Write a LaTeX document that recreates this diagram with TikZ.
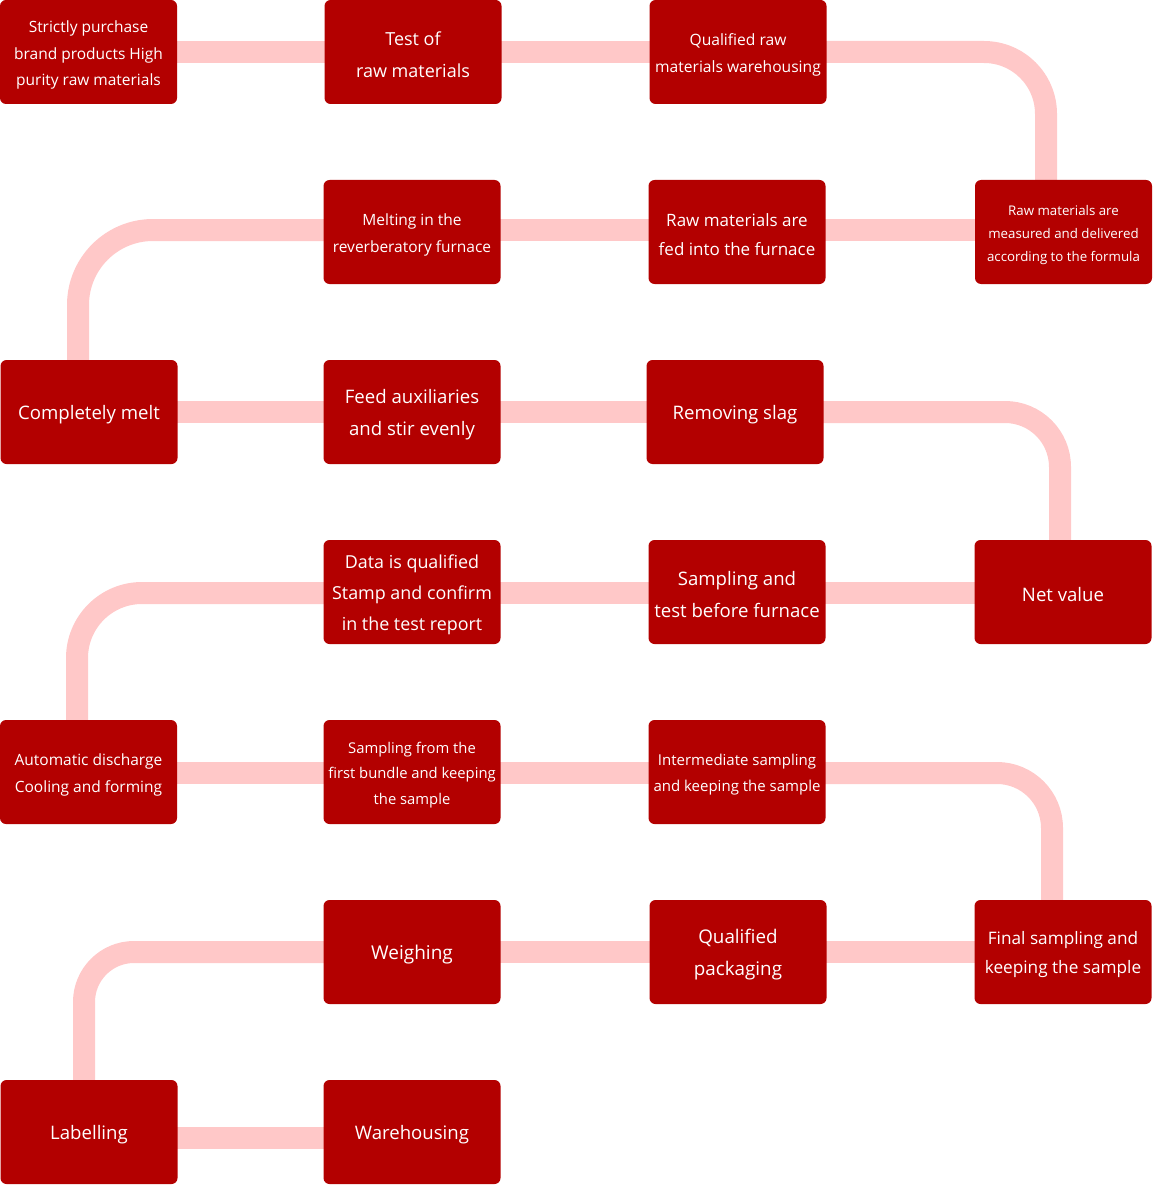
\documentclass[tikz,border=0pt]{standalone}
\usepackage{fontspec}
\setmainfont{Open Sans}
\definecolor{boxred}{HTML}{B30000}
\definecolor{pipepink}{HTML}{FFC8C8}
\pgfdeclarelayer{bg}
\pgfsetlayers{bg,main}
\tikzset{
  stepbox/.style={rectangle, fill=boxred, rounded corners=6pt,
    minimum width=177pt, minimum height=104pt, inner sep=0pt},
  tx/.style={text=white, align=center, inner sep=0pt, yshift=-3pt,
    font={\fontsize{18.6}{32}\selectfont}},
  pipe/.style={draw=pipepink, line width=22pt}
}
\begin{document}
\begin{tikzpicture}[x=1pt,y=-1pt]
\useasboundingbox (0,0) rectangle (1152,1185);
% row 1
\node[stepbox, label={[tx, font={\fontsize{15.5}{26.5}\selectfont}]center:{Strictly purchase\\brand products High\\purity raw materials}}] (n1) at (88.5,52) {};
\node[stepbox, label={[tx, font={\fontsize{18}{32}\selectfont}]center:{Test of\\raw materials}}] (n2) at (413,52) {};
\node[stepbox, label={[tx, font={\fontsize{15.6}{27}\selectfont}]center:{Qualified raw\\materials warehousing}}] (n3) at (738,52) {};
% row 2
\node[stepbox, label={[tx, font={\fontsize{13.3}{23}\selectfont}]center:{Raw materials are\\measured and delivered\\according to the formula}}] (n4) at (1063.5,232) {};
\node[stepbox, label={[tx, font={\fontsize{17}{29}\selectfont}]center:{Raw materials are\\fed into the furnace}}] (n5) at (737,232) {};
\node[stepbox, label={[tx, font={\fontsize{15.5}{27}\selectfont}]center:{Melting in the\\reverberatory furnace}}] (n6) at (412,232) {};
% row 3
\node[stepbox, label={[tx]center:{Completely melt}}] (n7) at (89,412) {};
\node[stepbox, label={[tx]center:{Feed auxiliaries\\and stir evenly}}] (n8) at (412,412) {};
\node[stepbox, label={[tx]center:{Removing slag}}] (n9) at (735,412) {};
% row 4
\node[stepbox, label={[tx]center:{Net value}}] (n10) at (1063,592) {};
\node[stepbox, label={[tx]center:{Sampling and\\test before furnace}}] (n11) at (737,592) {};
\node[stepbox, label={[tx, font={\fontsize{17.9}{31}\selectfont}]center:{Data is qualified\\Stamp and confirm\\in the test report}}] (n12) at (412,592) {};
% row 5
\node[stepbox, label={[tx, font={\fontsize{15.5}{27}\selectfont}]center:{Automatic discharge\\Cooling and forming}}] (n13) at (88.5,772) {};
\node[stepbox, label={[tx, font={\fontsize{14.8}{25.5}\selectfont}]center:{Sampling from the\\first bundle and keeping\\the sample}}] (n14) at (412,772) {};
\node[stepbox, label={[tx, font={\fontsize{15}{26}\selectfont}]center:{Intermediate sampling\\and keeping the sample}}] (n15) at (737,772) {};
% row 6
\node[stepbox, label={[tx, font={\fontsize{17.2}{29}\selectfont}]center:{Final sampling and\\keeping the sample}}] (n16) at (1063,952) {};
\node[stepbox, label={[tx, font={\fontsize{18.8}{32}\selectfont}]center:{Qualified\\packaging}}] (n17) at (738,952) {};
\node[stepbox, label={[tx, font={\fontsize{19}{32}\selectfont}]center:{Weighing}}] (n18) at (412,952) {};
% row 7
\node[stepbox, label={[tx]center:{Labelling}}] (n19) at (89,1132) {};
\node[stepbox, label={[tx]center:{Warehousing}}] (n20) at (412,1132) {};

\begin{pgfonlayer}{bg}
\draw[pipe] (n1.center) -- (n2.center) -- (n3.center);
\draw[pipe, rounded corners=62pt] (n3.center) -| ([xshift=-17.5pt]n4.center);
\draw[pipe] ([yshift=2pt]n4.center) -- ([yshift=2pt]n5.center) -- ([yshift=2pt]n6.center);
\draw[pipe, rounded corners=75pt] ([yshift=2pt]n6.center) -| ([xshift=-11pt]n7.center);
\draw[pipe] (n7.center) -- (n8.center) -- (n9.center);
\draw[pipe, rounded corners=55pt] (n9.center) -| ([xshift=-3pt]n10.center);
\draw[pipe] ([yshift=-1pt]n10.center) -- ([yshift=-1pt]n11.center) -- ([yshift=-1pt]n12.center);
\draw[pipe, rounded corners=65pt] ([yshift=-1pt]n12.center) -| ([xshift=-11.5pt]n13.center);
\draw[pipe] ([yshift=-1pt]n13.center) -- ([yshift=-1pt]n14.center) -- ([yshift=-1pt]n15.center);
\draw[pipe, rounded corners=55pt] ([yshift=-1pt]n15.center) -| ([xshift=-11pt]n16.center);
\draw[pipe] (n16.center) -- (n17.center) -- (n18.center);
\draw[pipe, rounded corners=50pt] (n18.center) -| ([xshift=-5pt]n19.center);
\draw[pipe] ([yshift=-6pt]n19.center) -- ([yshift=-6pt]n20.center);
\end{pgfonlayer}
\end{tikzpicture}
\end{document}
